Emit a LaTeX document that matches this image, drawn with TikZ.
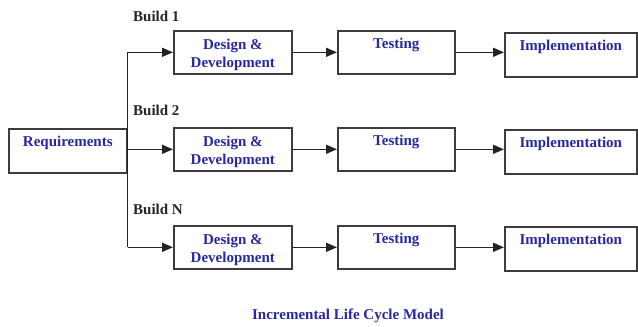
\documentclass[tikz,border=0pt]{standalone}
\usepackage{fontspec}
\setmainfont{Liberation Serif}
\usetikzlibrary{arrows.meta}
\definecolor{txtblue}{RGB}{40,40,160}
\definecolor{boxgray}{RGB}{60,60,60}
\definecolor{linegray}{RGB}{35,35,35}
\begin{document}
\begin{tikzpicture}[x=1pt,y=-1pt,
  box/.style={draw=boxgray, line width=1.6pt, fill=white, inner xsep=0pt, inner ysep=0pt,
    font=\fontsize{15}{18}\selectfont\bfseries, text=txtblue, anchor=north west,
    text height=18pt, text depth=25pt},
  twoline/.style={box, align=center, text height=37pt, text depth=6pt},
  implbox/.style={box, text depth=26pt},
  buildlbl/.style={font=\fontsize{15}{18}\selectfont\bfseries, text=black!85, anchor=west, inner sep=0pt},
  arr/.style={draw=linegray, line width=1.5pt, -{Triangle[length=11pt,width=9pt]}},
  conn/.style={draw=linegray, line width=1.5pt}
]
\useasboundingbox (0,0) rectangle (638,327);

\node[box, minimum width=118pt, text depth=26pt] (req) at (8,128) {Requirements};

\node[twoline, minimum width=118pt] (d1) at (173,30) {Design \&\\Development};
\node[box, minimum width=117pt] (t1) at (337,30) {Testing};
\node[implbox, minimum width=132pt] (i1) at (504,32) {Implementation};

\node[twoline, minimum width=118pt] (d2) at (173,127) {Design \&\\Development};
\node[box, minimum width=117pt] (t2) at (337,127) {Testing};
\node[implbox, minimum width=132pt] (i2) at (504,129) {Implementation};

\node[twoline, minimum width=118pt] (dN) at (173,225) {Design \&\\Development};
\node[box, minimum width=117pt] (tN) at (337,225) {Testing};
\node[implbox, minimum width=132pt] (iN) at (504,226) {Implementation};

\node[buildlbl] (b1) at (133,16) {Build 1};
\node[buildlbl] (b2) at (133,110) {Build 2};
\node[buildlbl] (bN) at (133,209) {Build N};

\node[font=\fontsize{15}{18}\selectfont\bfseries, text=txtblue] (title) at (348,316) {Incremental Life Cycle Model};

\coordinate (top) at (req.east |- d1.west);
\coordinate (bot) at (req.east |- dN.west);
\draw[conn] (top) -- (bot);
\draw[arr] (top) -- (d1.west);
\draw[arr] (req.east |- d2.west) -- (d2.west);
\draw[arr] (bot) -- (dN.west);

\draw[arr] (d1.east) -- (d1.east -| t1.west);
\draw[arr] (d2.east) -- (d2.east -| t2.west);
\draw[arr] (dN.east) -- (dN.east -| tN.west);
\draw[arr] (t1.east) -- (t1.east -| i1.west);
\draw[arr] (t2.east) -- (t2.east -| i2.west);
\draw[arr] (tN.east) -- (tN.east -| iN.west);
\end{tikzpicture}
\end{document}
